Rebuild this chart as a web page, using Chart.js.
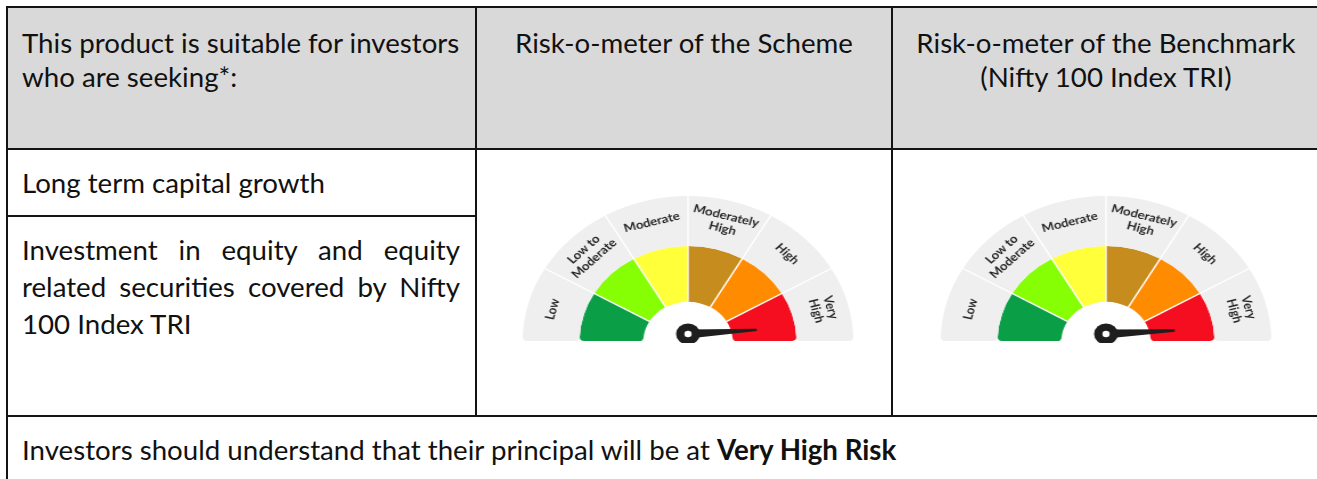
<!DOCTYPE html>
<html>
<head>
<meta charset="utf-8">
<script src="https://cdn.jsdelivr.net/npm/chart.js@4.4.1/dist/chart.umd.min.js"></script>
<style>
html,body{margin:0;padding:0;background:#fff;width:1317px;height:479px;overflow:hidden;}
body{position:relative;font-family:Lato,"Open Sans",sans-serif;color:#111;--fs:25px;}
.hdr{position:absolute;left:8px;top:8px;width:1312px;height:140px;background:#d9d9d9;}
.ln{position:absolute;background:#141414;}
.t{position:absolute;font-size:var(--fs);line-height:34px;white-space:nowrap;}
.c{text-align:center;}
.j{position:absolute;left:22px;width:438px;font-size:var(--fs);line-height:37px;}
.j div{text-align:justify;text-align-last:justify;white-space:nowrap;}
.j div.last{text-align:left;text-align-last:left;}
.g{position:absolute;width:300px;height:152px;transform:scaleX(1.14);transform-origin:50% 50%;}
.g canvas{display:block;}
</style>
</head>
<body>
<div class="hdr"></div>

<div class="t" style="left:22px;top:26px;">This product is suitable for investors<br>who are seeking*:</div>
<div class="t c" style="left:477px;width:414px;top:26px;">Risk-o-meter of the Scheme</div>
<div class="t c" style="left:893px;width:426px;top:26px;">Risk-o-meter of the Benchmark<br>(Nifty 100 Index TRI)</div>
<div class="t" style="left:22px;top:166px;">Long term capital growth</div>
<div class="j" style="top:231px;">
  <div>Investment in equity and equity</div>
  <div>related securities covered by Nifty</div>
  <div class="last">100 Index TRI</div>
</div>
<div class="t" style="left:22px;top:433px;">Investors should understand that their principal will be at <b>Very High Risk</b></div>

<div class="ln" style="left:6px;top:6px;width:1320px;height:2px;"></div>
<div class="ln" style="left:6px;top:6px;width:2px;height:480px;"></div>
<div class="ln" style="left:6px;top:148px;width:1320px;height:2px;"></div>
<div class="ln" style="left:6px;top:215px;width:471px;height:2px;"></div>
<div class="ln" style="left:6px;top:415px;width:1320px;height:2px;"></div>
<div class="ln" style="left:475px;top:6px;width:2px;height:411px;"></div>
<div class="ln" style="left:891px;top:6px;width:2px;height:411px;"></div>

<div class="g" style="left:538px;top:191px;"><canvas id="g1" width="300" height="152"></canvas></div>
<div class="g" style="left:956px;top:191px;"><canvas id="g2" width="300" height="152"></canvas></div>

<script>
// ---- data ----
const riskLevels = ['Low', 'Low to Moderate', 'Moderate', 'Moderately High', 'High', 'Very High'];
const riskLabelLines = [['Low'], ['Low to', 'Moderate'], ['Moderate'], ['Moderately', 'High'], ['High'], ['Very', 'High']];
const segmentValues = [1, 1, 1, 1, 1, 1];
const levelColors = ['#0a9f47', '#86ff05', '#ffff3a', '#c68c1d', '#ff8c00', '#f40e1f'];
const labelRingColor = '#efefef';
const schemeRisk = 5.87;     // needle position on the 0-6 scale
const benchmarkRisk = 5.89;

const gaugeDecor = {
  id: 'gaugeDecor',
  afterDatasetsDraw(chart, args, opts) {
    const ctx = chart.ctx;
    const ring = chart.getDatasetMeta(0).data;
    const band = chart.getDatasetMeta(1).data;
    const x = ring[0].x, y = ring[0].y;
    const outerR = ring[0].outerRadius;
    const holeR = band[0].innerRadius;
    ctx.save();
    // separators
    ctx.strokeStyle = '#ffffff';
    ctx.lineWidth = 1.4;
    for (let i = 1; i < ring.length; i++) {
      const a = ring[i].startAngle;
      ctx.beginPath();
      ctx.moveTo(x + holeR * Math.cos(a), y + holeR * Math.sin(a));
      ctx.lineTo(x + (outerR + 1) * Math.cos(a), y + (outerR + 1) * Math.sin(a));
      ctx.stroke();
    }
    // labels
    ctx.fillStyle = '#262626';
    ctx.font = 'bold 11.5px Lato';
    ctx.textAlign = 'center';
    ctx.textBaseline = 'middle';
    ring.forEach((arc, i) => {
      const mid = (arc.startAngle + arc.endAngle) / 2;
      const r = (arc.innerRadius + arc.outerRadius) / 2 + 3;
      const lines = riskLabelLines[i];
      ctx.save();
      ctx.translate(x + r * Math.cos(mid), y + r * Math.sin(mid));
      ctx.rotate(mid + Math.PI / 2);
      lines.forEach((t, j) => ctx.fillText(t, 0, (j - (lines.length - 1) / 2) * 13));
      ctx.restore();
    });
    // needle
    const total = segmentValues.reduce((s, v) => s + v, 0);
    const start = band[0].startAngle, end = band[band.length - 1].endAngle;
    const ang = start + (end - start) * opts.value / total;
    const px = x, py = y - 7;
    const len = holeR + (band[0].outerRadius - holeR) * 0.38;
    const nx = Math.cos(ang), ny = Math.sin(ang);
    const qx = -ny, qy = nx;
    ctx.fillStyle = '#1e1e1e';
    ctx.beginPath();
    ctx.moveTo(px + qx * 4.5, py + qy * 4.5);
    ctx.lineTo(px + nx * len + qx * 1.2, py + ny * len + qy * 1.2);
    ctx.lineTo(px + nx * len - qx * 1.2, py + ny * len - qy * 1.2);
    ctx.lineTo(px - qx * 4.5, py - qy * 4.5);
    ctx.closePath();
    ctx.fill();
    ctx.beginPath();
    ctx.arc(px, py, 10.5, 0, Math.PI * 2);
    ctx.fill();
    ctx.fillStyle = '#ffffff';
    ctx.beginPath();
    ctx.arc(px, py, 3.2, 0, Math.PI * 2);
    ctx.fill();
    ctx.restore();
  }
};

function endRadius(c) {
  const last = c.chart.data.labels.length - 1;
  if (c.dataIndex === 0) return {outerStart: 4, innerStart: 4, outerEnd: 0, innerEnd: 0};
  if (c.dataIndex === last) return {outerStart: 0, innerStart: 0, outerEnd: 4, innerEnd: 4};
  return 0;
}

function makeGauge(id, value) {
  return new Chart(document.getElementById(id), {
    type: 'doughnut',
    data: {
      labels: riskLevels,
      datasets: [
        {data: segmentValues, backgroundColor: labelRingColor, borderWidth: 0, weight: 50, borderRadius: endRadius},
        {data: segmentValues, backgroundColor: levelColors, borderWidth: 0, weight: 56, borderRadius: endRadius}
      ]
    },
    options: {
      responsive: false,
      animation: false,
      events: [],
      rotation: -90,
      circumference: 180,
      cutout: '27%',
      layout: {padding: {left: 5, right: 5, top: 5, bottom: 2}},
      plugins: {legend: {display: false}, tooltip: {enabled: false}, gaugeDecor: {value: value}}
    },
    plugins: [gaugeDecor]
  });
}

function start() {
  const m = document.createElement('canvas').getContext('2d');
  m.font = '400 100px Lato';
  const w = m.measureText('This product is suitable for investors').width;
  document.body.style.setProperty('--fs', (100 * 438 / w).toFixed(2) + 'px');
  makeGauge('g1', schemeRisk);
  makeGauge('g2', benchmarkRisk);
}
Promise.all([document.fonts.load('400 100px Lato'), document.fonts.load('700 10px Lato')]).then(start, start);
</script>
</body>
</html>
